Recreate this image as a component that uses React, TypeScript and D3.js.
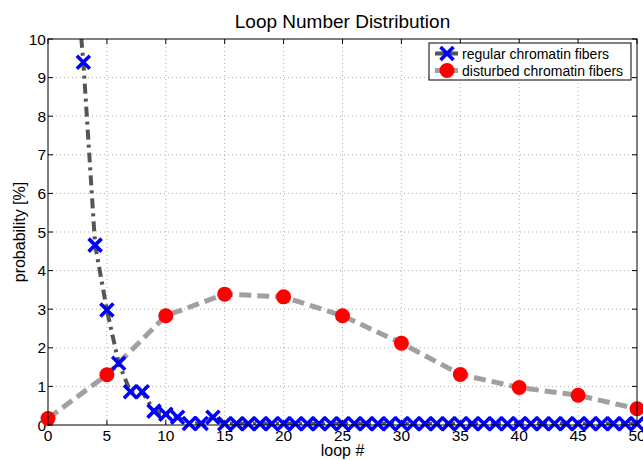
import React from "react";
import * as d3 from "d3";

const regularX = [2,3,4,5,6,7,8,9,10,11,12,13,14,15,16,17,18,19,20,21,22,23,24,25,26,27,28,29,30,31,32,33,34,35,36,37,38,39,40,41,42,43,44,45,46,47,48,49,50];
const regularY = [13,9.4,4.66,2.98,1.6,0.86,0.86,0.36,0.28,0.2,0.04,0.04,0.2,0.03,0.03,0.03,0.03,0.03,0.03,0.03,0.03,0.03,0.03,0.03,0.03,0.03,0.03,0.03,0.03,0.03,0.03,0.03,0.03,0.03,0.03,0.03,0.03,0.03,0.03,0.03,0.03,0.03,0.03,0.03,0.03,0.03,0.03,0.03,0.03];
const disturbedX = [0,5,10,15,20,25,30,35,40,45,50];
const disturbedY = [0.17,1.3,2.83,3.39,3.32,2.83,2.12,1.31,0.97,0.77,0.42];
const xTicks = [0,5,10,15,20,25,30,35,40,45,50];
const yTicks = [0,1,2,3,4,5,6,7,8,9,10];
const title = "Loop Number Distribution";
const xLabel = "loop #";
const yLabel = "probability [%]";
const legendLabels = ["regular chromatin fibers", "disturbed chromatin fibers"];

const W = 643, H = 460;
const L = 48, R = 637, T = 39, B = 425;
const FONT = "'Liberation Sans', Arial, Helvetica, sans-serif";

function XMark({ x, y, s = 6.5 }: { x: number; y: number; s?: number }) {
  return (
    <path d={`M${x - s},${y - s}L${x + s},${y + s}M${x - s},${y + s}L${x + s},${y - s}`} stroke="#0000ff" strokeWidth={3.6} fill="none" />
  );
}

export default function App() {
  const x = d3.scaleLinear().domain([0, 50]).range([L, R]);
  const y = d3.scaleLinear().domain([0, 10]).range([B, T]);
  const line = d3.line<[number, number]>().x(d => x(d[0])).y(d => y(d[1]));
  const reg: [number, number][] = regularX.map((v, i) => [v, regularY[i]]);
  const dis: [number, number][] = disturbedX.map((v, i) => [v, disturbedY[i]]);
  const tl = 5;
  return (
    <svg width={W} height={H} style={{ position: "absolute", left: 0, top: 0, background: "#fff" }} fontFamily={FONT}>
      <rect x={0} y={0} width={W} height={H} fill="#fff" />
      <defs>
        <clipPath id="plotclip">
          <rect x={L} y={T} width={R - L} height={B - T} />
        </clipPath>
      </defs>
      {/* grid */}
      {xTicks.slice(1, -1).map(t => (
        <line key={"gx" + t} x1={x(t)} x2={x(t)} y1={T} y2={B} stroke="#999" strokeWidth={0.8} strokeDasharray="1,3" />
      ))}
      {yTicks.slice(1, -1).map(t => (
        <line key={"gy" + t} x1={L} x2={R} y1={y(t)} y2={y(t)} stroke="#999" strokeWidth={0.8} strokeDasharray="1,3" />
      ))}
      {/* ticks */}
      {xTicks.map(t => (
        <g key={"tx" + t}>
          <line x1={x(t)} x2={x(t)} y1={B} y2={B - tl} stroke="#000" />
          <line x1={x(t)} x2={x(t)} y1={T} y2={T + tl} stroke="#000" />
          <text x={x(t)} y={441} fontSize={15.5} textAnchor="middle">{t}</text>
        </g>
      ))}
      {yTicks.map(t => (
        <g key={"ty" + t}>
          <line x1={L} x2={L + tl} y1={y(t)} y2={y(t)} stroke="#000" />
          <line x1={R} x2={R - tl} y1={y(t)} y2={y(t)} stroke="#000" />
          <text x={L - 2} y={y(t) + 5.5} fontSize={15.5} textAnchor="end">{t}</text>
        </g>
      ))}
      {/* lines */}
      <g clipPath="url(#plotclip)">
        <path d={line(dis) || ""} fill="none" stroke="#a0a0a0" strokeWidth={5} strokeDasharray="12,6" />
        <path d={line(reg) || ""} fill="none" stroke="#555" strokeWidth={4} strokeDasharray="10,5,3,5" />
      </g>
      {/* markers */}
      {reg.filter(d => d[1] <= 10).map((d, i) => (
        <XMark key={"m" + i} x={x(d[0])} y={y(d[1])} />
      ))}
      {dis.map((d, i) => (
        <circle key={"c" + i} cx={x(d[0])} cy={y(d[1])} r={7.5} fill="#ff0000" />
      ))}
      {/* frame */}
      <rect x={L} y={T} width={R - L} height={B - T} fill="none" stroke="#000" strokeWidth={1} />
      {/* labels */}
      <text x={(L + R) / 2} y={28} fontSize={19} textAnchor="middle">{title}</text>
      <text x={(L + R) / 2} y={456} fontSize={16} textAnchor="middle">{xLabel}</text>
      <text transform={`translate(25,232) rotate(-90)`} fontSize={16} textAnchor="middle">{yLabel}</text>
      {/* legend */}
      <g>
        <rect x={429} y={43} width={202} height={37} fill="#fff" stroke="#000" strokeWidth={1} />
        <line x1={435} x2={458} y1={53.5} y2={53.5} stroke="#555" strokeWidth={4} />
        <XMark x={447} y={53.5} />
        <text x={462} y={58.5} fontSize={14}>{legendLabels[0]}</text>
        <line x1={435} x2={458} y1={70.5} y2={70.5} stroke="#a0a0a0" strokeWidth={5} />
        <circle cx={447} cy={70.5} r={7.5} fill="#ff0000" />
        <text x={462} y={75.5} fontSize={14}>{legendLabels[1]}</text>
      </g>
    </svg>
  );
}
